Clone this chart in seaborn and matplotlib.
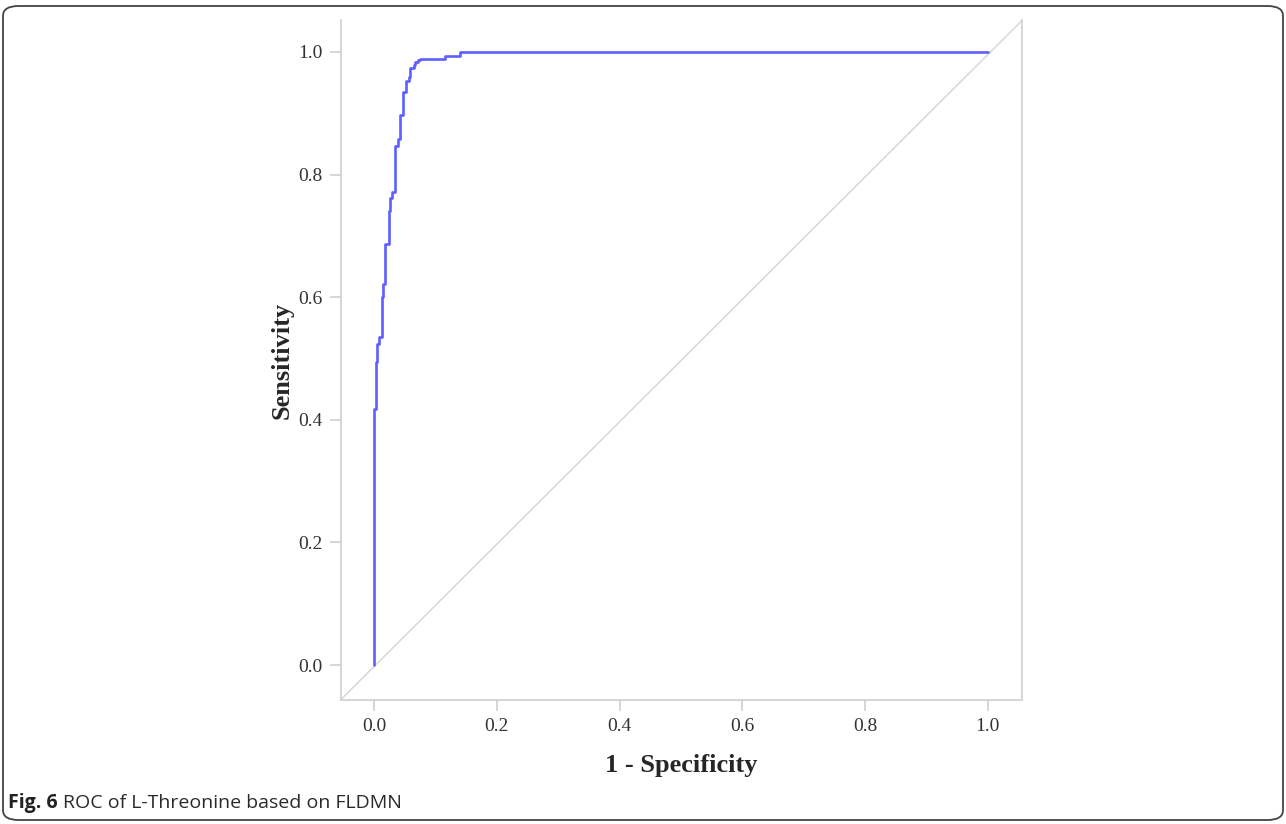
import matplotlib
matplotlib.use("Agg")
import matplotlib.pyplot as plt
import seaborn as sns
import pandas as pd
from matplotlib.patches import FancyBboxPatch

# ROC corner points (1 - specificity, sensitivity)
fpr = [0.0, 0.003, 0.004, 0.005, 0.008, 0.013, 0.015, 0.018, 0.024, 0.026,
       0.029, 0.034, 0.038, 0.042, 0.047, 0.052, 0.056, 0.059, 0.064, 0.067,
       0.071, 0.074, 0.116, 0.139, 1.0]
tpr = [0.0, 0.417, 0.495, 0.510, 0.524, 0.535, 0.600, 0.621, 0.686, 0.741,
       0.761, 0.772, 0.847, 0.858, 0.897, 0.934, 0.953, 0.959, 0.974, 0.978,
       0.983, 0.987, 0.989, 0.994, 1.0]
ticks = [0.0, 0.2, 0.4, 0.6, 0.8, 1.0]
tick_labels = ["0.0", "0.2", "0.4", "0.6", "0.8", "1.0"]

roc = pd.DataFrame({"fpr": fpr, "tpr": tpr})

sns.set_style("white")
plt.rcParams["font.family"] = ["Liberation Serif", "DejaVu Serif"]

fig = plt.figure(figsize=(12.86, 8.24), dpi=100)
ax = fig.add_axes([0.2648, 0.1505, 0.5303, 0.8252])

xlo, xhi = -0.055, 1.057
ylo, yhi = -0.057, 1.052
ax.set_xlim(xlo, xhi)
ax.set_ylim(ylo, yhi)

# reference diagonal, corner to corner
ax.plot([xlo, xhi], [ylo, yhi], color="#d4d4d4", lw=1.0, zorder=1)

sns.lineplot(data=roc, x="fpr", y="tpr", ax=ax, sort=False, estimator=None,
             drawstyle="steps-pre", color="#5f5fff", lw=1.9, zorder=3)

grey = "#cfcfcf"
for side in ["left", "right", "bottom"]:
    ax.spines[side].set_visible(True)
    ax.spines[side].set_color(grey)
    ax.spines[side].set_linewidth(1.2)
ax.spines["top"].set_visible(False)

ax.set_xticks(ticks)
ax.set_xticklabels(tick_labels)
ax.set_yticks(ticks)
ax.set_yticklabels(tick_labels)
ax.tick_params(axis="both", direction="out", length=8, width=1.2, color=grey,
               labelsize=14, labelcolor="#333333", pad=5,
               bottom=True, left=True)

ax.set_xlabel("1 - Specificity", fontsize=19, fontweight="bold", labelpad=14)
ax.set_ylabel("Sensitivity", fontsize=19, fontweight="bold", labelpad=3)

# caption and frame
fig.text(8 / 1286, 1 - 808 / 824, "Fig. 6", fontsize=14, fontweight="bold",
         family=["Open Sans", "DejaVu Sans"], color="#222222")
fig.text(63 / 1286, 1 - 808 / 824, "ROC of L-Threonine based on FLDMN",
         fontsize=14, family=["Open Sans", "DejaVu Sans"], color="#2a2a2a")

frame = FancyBboxPatch((3 / 1286, 4 / 824), 1280 / 1286, 814 / 824,
                       boxstyle="round,pad=0,rounding_size=0.012",
                       transform=fig.transFigure, fill=False,
                       edgecolor="#444444", lw=1.3)
fig.patches.append(frame)

fig.savefig("out.png", dpi=100)
